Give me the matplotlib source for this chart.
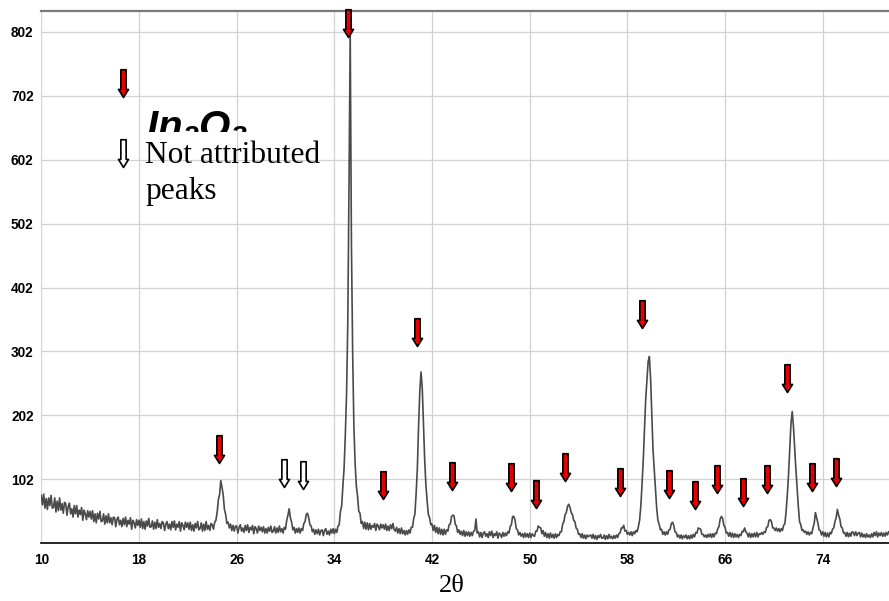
import numpy as np
import matplotlib
matplotlib.use("Agg")
import matplotlib.pyplot as plt
from matplotlib.path import Path
from matplotlib.patches import Rectangle

# ---- XRD pattern: intensity sampled every 0.1 deg of 2theta, from 10.0 deg ----
two_theta_start = 10.0
two_theta_step = 0.1
intensity = [
    77, 62, 79, 57, 72, 55, 73, 61, 77, 57,      # 10
    58, 73, 51, 68, 53, 73, 54, 64, 49, 66,      # 11
    64, 46, 59, 65, 48, 56, 43, 61, 48, 61,      # 12
    43, 54, 47, 58, 38, 54, 48, 39, 53, 43,      # 13
    52, 40, 53, 36, 48, 34, 49, 40, 52, 36,      # 14
    37, 48, 32, 45, 34, 48, 34, 42, 31, 43,      # 15
    42, 28, 40, 43, 31, 38, 28, 41, 31, 43,      # 16
    28, 38, 32, 42, 24, 38, 34, 26, 39, 30,      # 17
    38, 27, 40, 25, 36, 24, 37, 29, 41, 27,      # 18
    28, 37, 24, 35, 25, 39, 27, 33, 25, 36,      # 19
    34, 22, 32, 36, 25, 32, 23, 36, 27, 37,      # 20
    23, 32, 27, 36, 21, 34, 30, 23, 35, 27,      # 21
    34, 24, 35, 22, 31, 21, 33, 26, 36, 23,      # 22
    25, 34, 21, 32, 22, 36, 24, 30, 22, 33,      # 23
    31, 24, 35, 38, 50, 70, 78, 100, 90, 77,     # 24
    55, 47, 33, 35, 26, 32, 22, 30, 21, 29,      # 25
    29, 18, 27, 31, 21, 26, 19, 30, 22, 31,      # 26
    19, 27, 23, 30, 17, 28, 25, 18, 29, 22,      # 27
    27, 20, 28, 18, 25, 18, 27, 21, 29, 19,      # 28
    21, 28, 18, 26, 19, 29, 20, 25, 18, 27,      # 29
    24, 38, 46, 56, 42, 35, 23, 27, 18, 25,      # 30
    19, 26, 18, 25, 22, 33, 36, 47, 49, 42,      # 31
    31, 29, 20, 24, 16, 23, 17, 24, 15, 22,      # 32
    23, 14, 22, 25, 16, 21, 15, 24, 18, 25,      # 33
    17, 24, 19, 29, 31, 52, 60, 92, 120, 172,    # 34
    235, 345, 560, 800, 470, 300, 185, 128, 92, 76,  # 35
    52, 49, 33, 36, 25, 35, 24, 34, 23, 33,      # 36
    24, 30, 27, 33, 22, 32, 29, 23, 32, 26,      # 37
    31, 24, 32, 22, 29, 22, 31, 25, 33, 23,      # 38
    21, 27, 18, 25, 17, 26, 17, 22, 15, 22,      # 39
    16, 23, 18, 27, 27, 41, 48, 80, 120, 186,    # 40
    240, 270, 245, 190, 132, 93, 68, 47, 42, 31, # 41
    32, 22, 30, 19, 27, 17, 26, 16, 24, 15,      # 42
    24, 16, 23, 21, 31, 32, 44, 46, 45, 32,      # 43
    29, 19, 23, 16, 21, 14, 22, 13, 20, 14,      # 44
    20, 13, 19, 14, 21, 22, 40, 18, 20, 12,      # 45
    19, 11, 18, 20, 13, 17, 11, 20, 14, 21,      # 46
    11, 17, 14, 20, 10, 18, 16, 11, 19, 13,      # 47
    18, 14, 20, 18, 28, 31, 44, 44, 38, 25,      # 48
    23, 15, 19, 13, 17, 11, 18, 12, 17, 11,      # 49
    18, 11, 17, 14, 13, 21, 21, 29, 27, 26,      # 50
    17, 22, 13, 19, 11, 17, 10, 18, 11, 16,      # 51
    10, 17, 11, 16, 14, 20, 20, 32, 36, 47,      # 52
    50, 60, 63, 58, 50, 47, 38, 36, 26, 24,      # 53
    16, 17, 11, 17, 10, 15, 9, 15, 12, 14,       # 54
    15, 10, 16, 9, 14, 8, 14, 11, 16, 10,        # 55
    10, 15, 8, 14, 9, 16, 10, 13, 9, 14,         # 56
    10, 15, 11, 17, 18, 26, 26, 30, 21, 22,      # 57
    16, 19, 15, 20, 14, 20, 17, 22, 20, 28,      # 58
    38, 60, 94, 132, 178, 227, 256, 286, 294, 260,  # 59
    202, 148, 117, 88, 57, 38, 32, 23, 24, 16,   # 60
    20, 15, 20, 16, 23, 24, 33, 35, 30, 20,      # 61
    19, 12, 15, 10, 15, 9, 14, 11, 15, 9,        # 62
    14, 9, 15, 10, 16, 12, 19, 18, 26, 25,       # 63
    24, 16, 16, 12, 15, 11, 16, 12, 17, 11,      # 64
    17, 12, 18, 17, 25, 28, 40, 44, 41, 30,      # 65
    27, 18, 19, 13, 19, 12, 18, 11, 17, 12,      # 66
    16, 11, 16, 14, 21, 20, 26, 20, 18, 12,      # 67
    18, 11, 17, 12, 18, 12, 19, 12, 17, 16,      # 68
    19, 16, 20, 19, 27, 28, 38, 39, 36, 26,      # 69
    26, 22, 26, 21, 25, 20, 25, 22, 30, 33,      # 70
    52, 78, 110, 150, 190, 208, 185, 150, 118, 88,  # 71
    60, 36, 31, 22, 23, 19, 21, 16, 20, 15,      # 72
    19, 17, 26, 33, 50, 42, 34, 23, 22, 15,      # 73
    20, 13, 19, 12, 18, 12, 19, 17, 24, 26,      # 74
    36, 42, 55, 46, 40, 28, 26, 18, 19, 13,      # 75
    19, 12, 18, 13, 20, 19, 14, 20, 14, 18,      # 76
    19, 12, 18, 12, 16, 11, 17, 12, 15, 11,      # 77
    17, 12, 19, 14, 20, 12, 18, 14, 19, 13,      # 78
    18, 13, 19, 15, 20,                          # 79
]

# In2O3 reflections marked with filled arrows: position and arrow tip height
in2o3_pos = [24.53, 35.09, 37.96, 40.75, 43.61, 48.44, 50.54, 52.92, 57.40,
             59.20, 61.41, 63.54, 65.36, 67.47, 69.46, 71.05, 73.10, 75.09]
in2o3_tip = [127, 794, 72, 310, 85, 84, 57, 100, 76,
             339, 73, 55, 81, 60, 81, 239, 84, 92]

# peaks without attribution (open arrows)
other_pos = [29.90, 31.46]
other_tip = [90, 87]

x_ticks = [10, 18, 26, 34, 42, 50, 58, 66, 74]
y_ticks = [102, 202, 302, 402, 502, 602, 702, 802]

# ---------------------------------------------------------------------------
W, H = 889, 601
fig = plt.figure(figsize=(W / 100, H / 100), dpi=100)
left_px, right_px, top_px, bottom_px = 41.3, 889, 11, 543.3
ax = fig.add_axes([left_px / W, 1 - bottom_px / H,
                   (right_px - left_px) / W, (bottom_px - top_px) / H])

two_theta = two_theta_start + two_theta_step * np.arange(len(intensity))
ax.plot(two_theta, intensity, color="#4a4a4a", lw=1.2, zorder=3)

ax.set_xlim(10, 10 + (right_px - left_px) / 12.21)
ax.set_ylim(2, 2 + (bottom_px - top_px) / 0.6394)
ax.set_xticks(x_ticks)
ax.set_yticks(y_ticks)
ax.grid(True, color="#d2d2d2", lw=0.9, zorder=0)
ax.set_axisbelow(True)

tick_font = dict(family="Liberation Sans", weight="bold", size=9.8)
ax.set_xticklabels([str(v) for v in x_ticks], fontdict=tick_font)
ax.set_yticklabels([str(v) for v in y_ticks], fontdict=tick_font)
ax.tick_params(axis="both", length=0)
ax.tick_params(axis="x", pad=7.2)
ax.tick_params(axis="y", pad=5.6)

for side in ("left", "right"):
    ax.spines[side].set_visible(False)
ax.spines["bottom"].set_color("black")
ax.spines["bottom"].set_linewidth(1.2)
ax.spines["top"].set_color("#7a7a7a")
ax.spines["top"].set_linewidth(1.6)

# block arrow marker, tip at the data point, body pointing upwards
arrow_path = Path(
    [(0, 0), (0.18, 0.29), (0.095, 0.29), (0.095, 1.0),
     (-0.095, 1.0), (-0.095, 0.29), (-0.18, 0.29), (0, 0)],
    [Path.MOVETO] + [Path.LINETO] * 6 + [Path.CLOSEPOLY])
arrow_size = 40

ax.plot(in2o3_pos, in2o3_tip, ls="none", marker=arrow_path, ms=arrow_size,
        mfc="#e60000", mec="black", mew=1.2, clip_on=False, zorder=6)
ax.plot(other_pos, other_tip, ls="none", marker=arrow_path, ms=arrow_size,
        mfc="white", mec="black", mew=1.2, clip_on=False, zorder=6)

# key
ax.plot([16.69], [700], ls="none", marker=arrow_path, ms=arrow_size,
        mfc="#e60000", mec="black", mew=1.2, zorder=6)
ax.plot([16.67], [590], ls="none", marker=arrow_path, ms=arrow_size,
        mfc="white", mec="black", mew=1.2, zorder=6)

plt.rcParams["mathtext.fontset"] = "custom"
plt.rcParams["mathtext.rm"] = "Liberation Sans:italic:bold"
formula = ax.text(18.57, 633, r"$\mathrm{In_2O_3}$", fontsize=29,
                  ha="left", va="baseline", color="black", zorder=5)
formula.set_clip_on(True)
formula.set_clip_path(Rectangle((10, 645.3), 80, 400, transform=ax.transData))

serif = dict(family="Liberation Serif", size=22.6, color="black")
ax.text(18.49, 596, "Not attributed", ha="left", va="baseline", zorder=5, **serif)
ax.text(18.49, 541, "peaks", ha="left", va="baseline", zorder=5, **serif)

fig.text(452 / W, 1 - 592 / H, "2θ", ha="center", va="baseline",
         family="Liberation Serif", size=19, color="black")

fig.savefig("out.png", dpi=100, facecolor="white")
